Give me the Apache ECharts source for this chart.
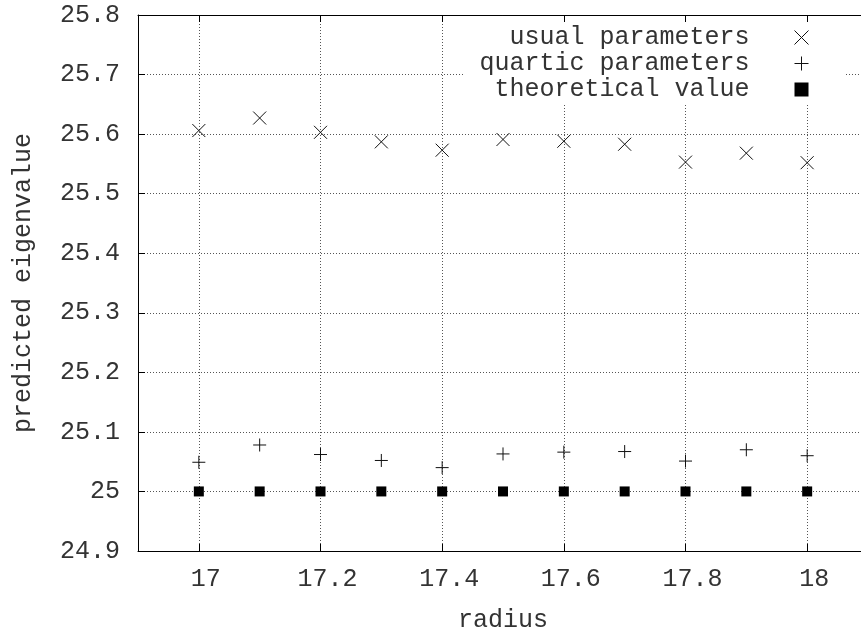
<!DOCTYPE html>
<html>
<head>
<meta charset="utf-8">
<script src="https://cdn.jsdelivr.net/npm/echarts@6/dist/echarts.min.js"></script>
<style>
html,body{margin:0;padding:0;overflow:hidden;background:#fff;}
#c{width:868px;height:630px;}
</style>
</head>
<body>
<div id="c"></div>
<script>
var radius = [17.0, 17.1, 17.2, 17.3, 17.4, 17.5, 17.6, 17.7, 17.8, 17.9, 18.0];
var usualParams = [25.606, 25.627, 25.603, 25.587, 25.573, 25.591, 25.588, 25.583, 25.553, 25.568, 25.552];
var quarticParams = [25.049, 25.078, 25.062, 25.052, 25.040, 25.063, 25.066, 25.067, 25.051, 25.070, 25.060];
var theoreticalValue = [25.0, 25.0, 25.0, 25.0, 25.0, 25.0, 25.0, 25.0, 25.0, 25.0, 25.0];
var xTicks = [17, 17.2, 17.4, 17.6, 17.8, 18];
var seriesNames = ['usual parameters', 'quartic parameters', 'theoretical value'];

function pairs(ys) { return radius.map(function (x, i) { return [x, ys[i]]; }); }

var FONT = "'Liberation Mono', 'Courier New', monospace";
var TXT = '#333';

var chart = echarts.init(document.getElementById('c'), null, {renderer: 'canvas'});
chart.setOption({
  animation: false,
  backgroundColor: '#fff',
  grid: {left: 138, top: 15, right: 0, bottom: 79, containLabel: false, outerBoundsMode: 'none'},
  legend: {
    orient: 'vertical',
    align: 'right',
    right: 23,
    top: 15,
    itemWidth: 14,
    itemHeight: 14,
    itemGap: 1,
    padding: [10, 36, 1, 16],
    backgroundColor: '#fff',
    selectedMode: false,
    textStyle: {fontFamily: FONT, fontSize: 25, lineHeight: 25, color: TXT, padding: [0, 40, 0, 0]},
    itemStyle: {borderWidth: 1},
    data: seriesNames
  },
  xAxis: [{
    type: 'value', min: 16.9, max: 18.1, position: 'bottom',
    name: 'radius', nameLocation: 'middle', nameGap: 57,
    nameTextStyle: {fontFamily: FONT, fontSize: 25, color: TXT},
    axisLine: {show: true, onZero: false, lineStyle: {color: '#000', width: 1}},
    axisTick: {show: true, inside: true, length: 7, customValues: xTicks, lineStyle: {color: '#000'}},
    axisLabel: {customValues: xTicks, margin: 16, fontFamily: FONT, fontSize: 25, color: TXT, padding: [0, 0, 0, 14]},
    splitLine: {show: true, lineStyle: {color: '#555', width: 1, type: [1, 2]}}
  }, {
    type: 'value', min: 16.9, max: 18.1, position: 'top', z: 10,
    axisLine: {show: true, onZero: false, lineStyle: {color: '#000', width: 1}},
    axisTick: {show: true, inside: true, length: 7, customValues: xTicks, lineStyle: {color: '#000'}},
    axisLabel: {show: false},
    splitLine: {show: false}
  }],
  yAxis: {
    type: 'value', min: 24.9, max: 25.8, interval: 0.1,
    name: 'predicted eigenvalue', nameLocation: 'middle', nameGap: 102, nameRotate: 90,
    nameTextStyle: {fontFamily: FONT, fontSize: 25, color: TXT},
    axisLine: {show: true, onZero: false, lineStyle: {color: '#000', width: 1}},
    axisTick: {show: true, inside: true, length: 7, lineStyle: {color: '#000'}},
    axisLabel: {margin: 18, fontFamily: FONT, fontSize: 25, color: TXT},
    splitLine: {show: true, lineStyle: {color: '#555', width: 1, type: [1, 2]}}
  },
  series: [{
    name: seriesNames[0], type: 'scatter', data: pairs(usualParams),
    symbol: 'path://M0,0L12,12M12,0L0,12', symbolSize: 13,
    itemStyle: {color: 'rgba(0,0,0,0)', borderColor: '#111', borderWidth: 1, opacity: 1},
    z: 5
  }, {
    name: seriesNames[1], type: 'scatter', data: pairs(quarticParams),
    symbol: 'path://M6,0L6,12M0,6L12,6', symbolSize: 13,
    itemStyle: {color: 'rgba(0,0,0,0)', borderColor: '#111', borderWidth: 1, opacity: 1},
    z: 5
  }, {
    name: seriesNames[2], type: 'scatter', data: pairs(theoreticalValue),
    symbol: 'rect', symbolSize: 10,
    itemStyle: {color: '#000', opacity: 1},
    z: 5
  }]
});
</script>
</body>
</html>
